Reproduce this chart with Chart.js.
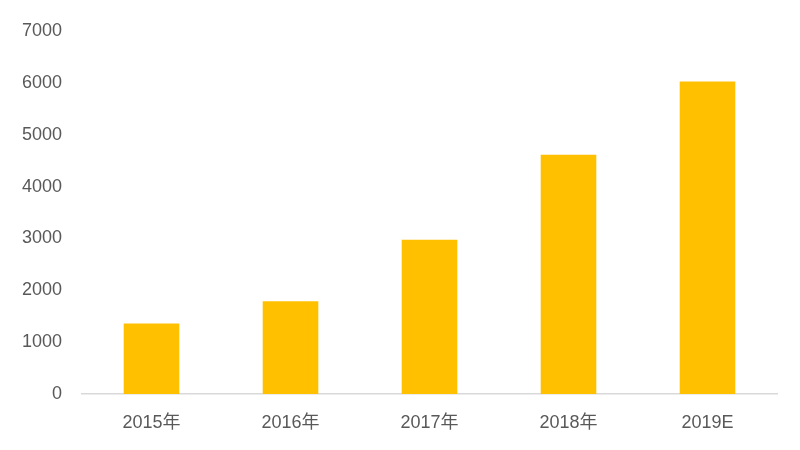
<!DOCTYPE html>
<html>
<head>
<meta charset="utf-8">
<script src="https://cdn.jsdelivr.net/npm/chart.js@4"></script>
<style>
  html, body { margin: 0; padding: 0; background: #fff; }
  #wrap { width: 800px; height: 450px; }
</style>
</head>
<body>
<div id="wrap"><canvas id="chart" width="800" height="450"></canvas></div>
<script>
const years = ["2015年", "2016年", "2017年", "2018年", "2019E"];
const values = [1360, 1790, 2975, 4615, 6025];
const yTicks = [0, 1000, 2000, 3000, 4000, 5000, 6000, 7000];

const labelFont = { family: "'Liberation Sans', 'Noto Sans CJK SC', sans-serif", size: 18 };
const textColor = "#595959";

const ctx = document.getElementById('chart').getContext('2d');

new Chart(ctx, {
    type: 'bar',
    data: {
        labels: years,
        datasets: [{
            label: 'value',
            data: values,
            backgroundColor: "#FFC000",
            categoryPercentage: 1,
            barPercentage: 0.4
        }]
    },
    options: {
        responsive: false,
        animation: false,
        layout: { padding: { top: 31, right: 23, left: 0, bottom: 0 } },
        plugins: { legend: { display: false }, tooltip: { enabled: false } },
        scales: {
            x: {
                grid: { display: false },
                border: { display: true, color: "#d9d9d9", width: 1.5 },
                ticks: { color: textColor, font: labelFont, padding: 10 },
                afterFit: function (s) { s.height = 56; }
            },
            y: {
                min: 0,
                max: 7000,
                afterBuildTicks: function (s) { s.ticks = yTicks.map(v => ({ value: v })); },
                grid: { display: false },
                border: { display: false },
                ticks: {
                    color: textColor,
                    font: labelFont,
                    padding: 12,
                    callback: function (v) { return String(v); }
                },
                afterFit: function (s) { s.width = 82; }
            }
        }
    }
});
</script>
</body>
</html>
